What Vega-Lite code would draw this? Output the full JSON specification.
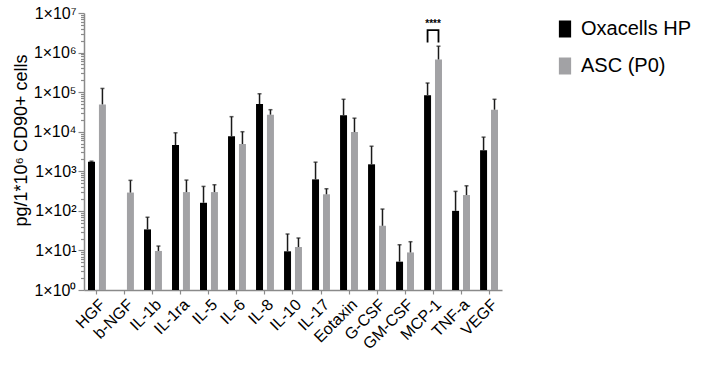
{
  "$schema": "https://vega.github.io/schema/vega-lite/v6.json",
  "width": 418,
  "height": 277,
  "autosize": {"type": "none"},
  "padding": {"left": 84, "top": 13, "right": 200, "bottom": 80},
  "background": "white",
  "config": {
    "view": {"stroke": null},
    "font": "Liberation Sans",
    "axis": {"domainColor": "#8a8a8a", "tickColor": "#8a8a8a", "labelColor": "#000", "titleColor": "#000", "grid": false, "labelFont": "Liberation Sans", "titleFont": "Liberation Sans", "domainWidth": 1.5, "tickWidth": 1.2},
    "legend": {"labelFont": "Liberation Sans"}
  },
  "resolve": {"axis": {"y": "independent"}},
  "datasets": {
    "bars": [
      {"cytokine": "HGF", "group": "Oxacells HP", "value": 1740, "upper": 1800},
      {"cytokine": "HGF", "group": "ASC (P0)", "value": 49000, "upper": 124000},
      {"cytokine": "b-NGF", "group": "ASC (P0)", "value": 290, "upper": 590},
      {"cytokine": "IL-1b", "group": "Oxacells HP", "value": 34, "upper": 69},
      {"cytokine": "IL-1b", "group": "ASC (P0)", "value": 9.7, "upper": 12.9},
      {"cytokine": "IL-1ra", "group": "Oxacells HP", "value": 4600, "upper": 9400},
      {"cytokine": "IL-1ra", "group": "ASC (P0)", "value": 298, "upper": 600},
      {"cytokine": "IL-5", "group": "Oxacells HP", "value": 160, "upper": 415},
      {"cytokine": "IL-5", "group": "ASC (P0)", "value": 298, "upper": 457},
      {"cytokine": "IL-6", "group": "Oxacells HP", "value": 7700, "upper": 24000},
      {"cytokine": "IL-6", "group": "ASC (P0)", "value": 4900, "upper": 10000},
      {"cytokine": "IL-8", "group": "Oxacells HP", "value": 50000, "upper": 91000},
      {"cytokine": "IL-8", "group": "ASC (P0)", "value": 27000, "upper": 36000},
      {"cytokine": "IL-10", "group": "Oxacells HP", "value": 9.5, "upper": 26},
      {"cytokine": "IL-10", "group": "ASC (P0)", "value": 12.2, "upper": 20.6},
      {"cytokine": "IL-17", "group": "Oxacells HP", "value": 625, "upper": 1700},
      {"cytokine": "IL-17", "group": "ASC (P0)", "value": 262, "upper": 362},
      {"cytokine": "Eotaxin", "group": "Oxacells HP", "value": 26000, "upper": 66000},
      {"cytokine": "Eotaxin", "group": "ASC (P0)", "value": 9800, "upper": 22000},
      {"cytokine": "G-CSF", "group": "Oxacells HP", "value": 1500, "upper": 4300},
      {"cytokine": "G-CSF", "group": "ASC (P0)", "value": 42, "upper": 111},
      {"cytokine": "GM-CSF", "group": "Oxacells HP", "value": 5.2, "upper": 13.9},
      {"cytokine": "GM-CSF", "group": "ASC (P0)", "value": 8.9, "upper": 16.6},
      {"cytokine": "MCP-1", "group": "Oxacells HP", "value": 84000, "upper": 170000},
      {"cytokine": "MCP-1", "group": "ASC (P0)", "value": 670000, "upper": 1450000},
      {"cytokine": "TNF-a", "group": "Oxacells HP", "value": 100, "upper": 311},
      {"cytokine": "TNF-a", "group": "ASC (P0)", "value": 251, "upper": 430},
      {"cytokine": "VEGF", "group": "Oxacells HP", "value": 3400, "upper": 7300},
      {"cytokine": "VEGF", "group": "ASC (P0)", "value": 36000, "upper": 66000}
    ],
    "bracket": [
      {"cytokine": "MCP-1", "group": "Oxacells HP", "v": 1800000, "ord": 1},
      {"cytokine": "MCP-1", "group": "Oxacells HP", "v": 3700000, "ord": 2},
      {"cytokine": "MCP-1", "group": "ASC (P0)", "v": 3700000, "ord": 3},
      {"cytokine": "MCP-1", "group": "ASC (P0)", "v": 1800000, "ord": 4}
    ],
    "stars": [
      {"cytokine": "MCP-1", "v": 5400000, "label": "****"}
    ]
  },
  "layer": [
    {
      "data": {"name": "bars"},
      "mark": {"type": "bar"},
      "encoding": {
        "x": {
          "field": "cytokine", "type": "nominal",
          "sort": ["HGF", "b-NGF", "IL-1b", "IL-1ra", "IL-5", "IL-6", "IL-8", "IL-10", "IL-17", "Eotaxin", "G-CSF", "GM-CSF", "MCP-1", "TNF-a", "VEGF"],
          "scale": {"paddingInner": 0.36, "paddingOuter": 0.143},
          "axis": {"title": null, "labelAngle": -45, "labelFontSize": 16, "tickSize": 4, "labelPadding": 2}
        },
        "xOffset": {"field": "group", "type": "nominal", "sort": ["Oxacells HP", "ASC (P0)"], "scale": {"paddingInner": 0.36, "paddingOuter": 0}},
        "y": {
          "field": "value", "type": "quantitative",
          "scale": {"type": "log", "domain": [1, 10000000]},
          "axis": {
            "orient": "left",
            "values": [1, 10, 100, 1000, 10000, 100000, 1000000, 10000000],
            "labelExpr": "'1×10' + ['⁰','¹','²','³','⁴','⁵','⁶','⁷'][round(log(datum.value)/LN10)]",
            "labelFontSize": 16, "tickSize": 6, "labelPadding": 2,
            "title": "pg/1*10⁶ CD90+ cells", "titleFontSize": 18, "titleFontWeight": "normal",
            "titleX": -63, "titleY": 127, "titleAngle": -90, "titleBaseline": "middle", "titleAlign": "center"
          }
        },
        "y2": {"datum": 1},
        "color": {
          "field": "group", "type": "nominal",
          "scale": {"domain": ["Oxacells HP", "ASC (P0)"], "range": ["#000000", "#a2a2a5"]},
          "legend": {
            "title": null, "orient": "none", "legendX": 471, "legendY": 6,
            "labelFontSize": 20, "symbolType": "M-0.72,-1H0.72V1H-0.72Z", "symbolSize": 289,
            "symbolStrokeWidth": 0, "labelOffset": 6, "rowPadding": 17, "padding": 0
          }
        }
      }
    },
    {
      "data": {"name": "bars"},
      "mark": {"type": "rule", "color": "#1a1a1a", "strokeWidth": 1.5},
      "encoding": {
        "x": {"field": "cytokine", "type": "nominal", "sort": ["HGF", "b-NGF", "IL-1b", "IL-1ra", "IL-5", "IL-6", "IL-8", "IL-10", "IL-17", "Eotaxin", "G-CSF", "GM-CSF", "MCP-1", "TNF-a", "VEGF"]},
        "xOffset": {"field": "group", "type": "nominal", "sort": ["Oxacells HP", "ASC (P0)"]},
        "y": {
          "field": "value", "type": "quantitative",
          "axis": {
            "orient": "left", "title": null, "labels": false, "domain": false, "tickSize": 3.5,
            "values": [2,3,4,5,6,7,8,9,20,30,40,50,60,70,80,90,200,300,400,500,600,700,800,900,2000,3000,4000,5000,6000,7000,8000,9000,20000,30000,40000,50000,60000,70000,80000,90000,200000,300000,400000,500000,600000,700000,800000,900000,2000000,3000000,4000000,5000000,6000000,7000000,8000000,9000000]
          }
        },
        "y2": {"field": "upper"}
      }
    },
    {
      "data": {"name": "bars"},
      "mark": {"type": "tick", "orient": "horizontal", "color": "#1a1a1a", "size": 4, "thickness": 1.5},
      "encoding": {
        "x": {"field": "cytokine", "type": "nominal", "sort": ["HGF", "b-NGF", "IL-1b", "IL-1ra", "IL-5", "IL-6", "IL-8", "IL-10", "IL-17", "Eotaxin", "G-CSF", "GM-CSF", "MCP-1", "TNF-a", "VEGF"]},
        "xOffset": {"field": "group", "type": "nominal", "sort": ["Oxacells HP", "ASC (P0)"]},
        "y": {"field": "upper", "type": "quantitative", "axis": null}
      }
    },
    {
      "data": {"name": "bracket"},
      "mark": {"type": "line", "color": "#000", "strokeWidth": 1.8},
      "encoding": {
        "x": {"field": "cytokine", "type": "nominal", "sort": ["HGF", "b-NGF", "IL-1b", "IL-1ra", "IL-5", "IL-6", "IL-8", "IL-10", "IL-17", "Eotaxin", "G-CSF", "GM-CSF", "MCP-1", "TNF-a", "VEGF"]},
        "xOffset": {"field": "group", "type": "nominal", "sort": ["Oxacells HP", "ASC (P0)"]},
        "y": {"field": "v", "type": "quantitative", "axis": null},
        "order": {"field": "ord", "type": "quantitative"}
      }
    },
    {
      "data": {"name": "stars"},
      "mark": {"type": "text", "fontSize": 10, "fontWeight": "bold", "baseline": "middle", "color": "#000"},
      "encoding": {
        "x": {"field": "cytokine", "type": "nominal", "sort": ["HGF", "b-NGF", "IL-1b", "IL-1ra", "IL-5", "IL-6", "IL-8", "IL-10", "IL-17", "Eotaxin", "G-CSF", "GM-CSF", "MCP-1", "TNF-a", "VEGF"]},
        "y": {"field": "v", "type": "quantitative", "axis": null},
        "text": {"field": "label"}
      }
    }
  ]
}
